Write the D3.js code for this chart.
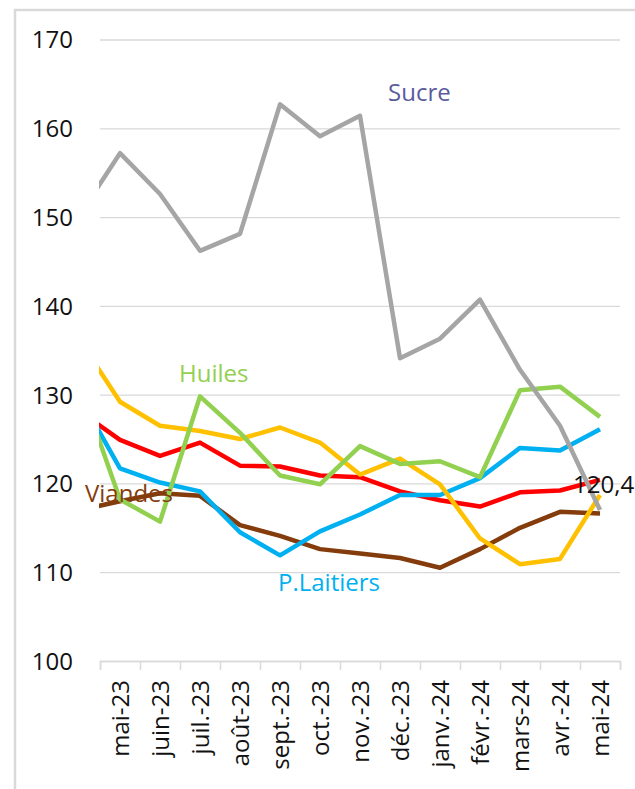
<!DOCTYPE html>
<html>
<head>
<meta charset="utf-8">
<script src="https://cdn.jsdelivr.net/npm/d3@7"></script>
<style>
  body { margin: 0; background: #fff; }
  svg text { font-family: "Open Sans", sans-serif; }
</style>
</head>
<body>
<div id="chart"></div>
<script>
// months (first one sits left of the visible axis and gets clipped)
var months = ["avr.-23", "mai-23", "juin-23", "juil.-23", "août-23", "sept.-23", "oct.-23",
              "nov.-23", "déc.-23", "janv.-24", "févr.-24", "mars-24", "avr.-24", "mai-24"];

var indice   = [128.1, 124.9, 123.1, 124.6, 122.0, 121.9, 120.9, 120.7, 119.1, 118.1, 117.4, 119.0, 119.2, 120.4];
var viandes  = [117.0, 118.0, 118.9, 118.6, 115.3, 114.1, 112.6, 112.1, 111.6, 110.5, 112.6, 115.0, 116.8, 116.6];
var laitiers = [129.7, 121.7, 120.1, 119.1, 114.5, 111.9, 114.6, 116.5, 118.7, 118.7, 120.6, 124.0, 123.7, 126.1];
var cereales = [136.1, 129.2, 126.5, 125.9, 125.0, 126.3, 124.6, 121.0, 122.8, 119.9, 113.8, 110.9, 111.5, 118.7];
var huiles   = [131.0, 118.2, 115.7, 129.8, 125.7, 120.9, 119.9, 124.2, 122.2, 122.5, 120.7, 130.5, 130.9, 127.5];
var sucre    = [150.3, 157.2, 152.6, 146.2, 148.1, 162.7, 159.1, 161.4, 134.1, 136.3, 140.7, 132.8, 126.5, 117.0];

var yTicks = [100, 110, 120, 130, 140, 150, 160, 170];

var series = [
  { name: "Indice",     values: indice,   color: "#ff0000" },
  { name: "Viandes",    values: viandes,  color: "#843c0c" },
  { name: "P.Laitiers", values: laitiers, color: "#00b0f0" },
  { name: "Céréales",   values: cereales, color: "#ffc000" },
  { name: "Huiles",     values: huiles,   color: "#92d050" },
  { name: "Sucre",      values: sucre,    color: "#a5a5a5" }
];

var W = 635, H = 789;
var plot = { left: 100, right: 620, top: 39.5, bottom: 661 };

var svg = d3.select("#chart").append("svg")
    .attr("width", W)
    .attr("height", H);

// chart frame
svg.append("rect")
  .attr("x", 15).attr("y", 10)
  .attr("width", 650).attr("height", 800)
  .attr("fill", "none")
  .attr("stroke", "#d9d9d9")
  .attr("stroke-width", 2.5);

var x = d3.scaleLinear()
  .domain([0.5, months.length - 0.5])
  .range([plot.left, plot.right]);

var y = d3.scaleLinear()
  .domain([100, 170])
  .range([plot.bottom, plot.top]);

// gridlines + y labels
var yAxis = svg.append("g")
  .attr("transform", "translate(" + plot.left + ",0)")
  .call(d3.axisLeft(y).tickValues(yTicks).tickSize(-(plot.right - plot.left)).tickPadding(27));

yAxis.select(".domain").remove();
yAxis.selectAll("line").attr("stroke", "#d9d9d9").attr("stroke-width", 1.3);
yAxis.selectAll("text")
  .attr("fill", "#111")
  .style("font-size", "24px")
  .attr("dy", "0.35em");

// x axis: tick marks at month boundaries
var xTicks = svg.append("g")
  .attr("transform", "translate(0," + plot.bottom + ")")
  .call(d3.axisBottom(x).tickValues(d3.range(0.5, months.length)).tickSize(9).tickFormat(""));
xTicks.select(".domain").attr("stroke", "#d9d9d9").attr("stroke-width", 1.5);
xTicks.selectAll("line").attr("stroke", "#d9d9d9").attr("stroke-width", 1.5);

// x labels
var xLabels = svg.append("g")
  .attr("transform", "translate(0," + plot.bottom + ")")
  .call(d3.axisBottom(x).tickValues(d3.range(1, months.length)).tickSize(0)
    .tickFormat(function(i){ return months[i]; }));
xLabels.select(".domain").remove();
xLabels.selectAll("text")
  .attr("transform", "rotate(-90)")
  .attr("x", -19)
  .attr("y", 0)
  .attr("dy", "0.36em")
  .style("text-anchor", "end")
  .style("font-size", "24px")
  .attr("fill", "#111");

// lines
svg.append("clipPath")
  .attr("id", "plotClip")
  .append("rect")
  .attr("x", plot.left - 1).attr("y", 0)
  .attr("width", plot.right - plot.left + 10).attr("height", H);

var line = d3.line()
  .x(function(d, i){ return x(i); })
  .y(function(d){ return y(d); });

svg.append("g")
  .attr("clip-path", "url(#plotClip)")
  .selectAll("path")
  .data(series)
  .enter().append("path")
    .attr("d", function(d){ return line(d.values); })
    .attr("fill", "none")
    .attr("stroke", function(d){ return d.color; })
    .attr("stroke-width", 4.5)
    .attr("stroke-linejoin", "round");

// series labels
var labels = [
  { text: "Sucre",      x: 388, y: 101, color: "#5b5b9c" },
  { text: "Huiles",     x: 179, y: 382, color: "#92d050" },
  { text: "Viandes",    x: 85,  y: 502, color: "#843c0c" },
  { text: "P.Laitiers", x: 278, y: 591, color: "#00b0f0" }
];

svg.selectAll(".serieLabel")
  .data(labels)
  .enter().append("text")
    .attr("class", "serieLabel")
    .attr("x", function(d){ return d.x; })
    .attr("y", function(d){ return d.y; })
    .attr("fill", function(d){ return d.color; })
    .style("font-size", "24px")
    .text(function(d){ return d.text; });

// last value of the index
svg.append("text")
  .attr("x", 573)
  .attr("y", 493)
  .attr("fill", "#111")
  .style("font-size", "24px")
  .text(d3.format(".1f")(indice[indice.length - 1]).replace(".", ","));
</script>
</body>
</html>
